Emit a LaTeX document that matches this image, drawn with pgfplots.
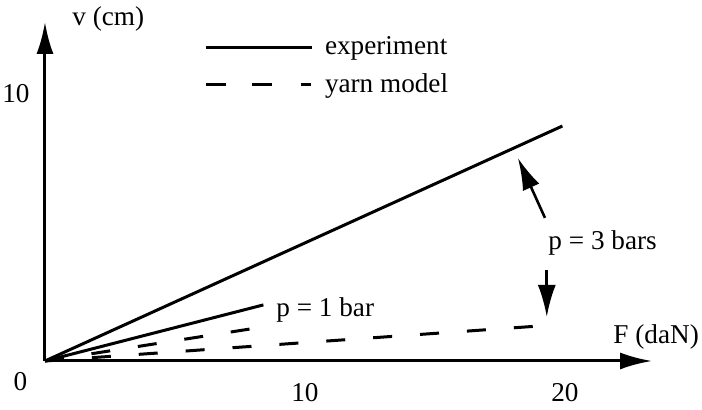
\documentclass[border=0pt]{standalone}
\usepackage{fontspec}
\setmainfont{Liberation Serif}
\usepackage{pgfplots}
\pgfplotsset{compat=1.18}
\usetikzlibrary{arrows.meta}

\begin{document}
\fontsize{13.6}{16}\selectfont
\begin{tikzpicture}
\begin{axis}[
    x=13pt, y=13.35pt,
    xmin=0, xmax=23.35,
    ymin=0, ymax=12.7,
    axis lines=left,
    axis line style={line width=1.5pt, -{Latex[length=16pt,width=8.5pt]}},
    xtick={10,20}, ytick={10},
    major tick length=0pt,
    /pgf/number format/assume math mode=true,
    xticklabel style={anchor=base, yshift=-20.5pt},
    yticklabel style={anchor=east, inner sep=0pt, xshift=-7.5pt},
    xlabel={F (daN)},
    ylabel={v (cm)},
    every axis x label/.style={at={(axis cs:21.85,0.67)}, anchor=base west, inner sep=0pt},
    every axis y label/.style={at={(axis cs:1.04,12.58)}, anchor=base west, inner sep=0pt},
    clip=false,
    legend style={
        at={(axis cs:5.87,12.47)}, anchor=north west,
        draw=none, fill=none, row sep=3.5pt,
        font=\fontsize{13.6}{16}\selectfont,
        /tikz/every odd column/.append style={column sep=4pt},
    },
    legend cell align=left,
    legend image code/.code={\draw[#1] (0pt,0pt) -- (53pt,0pt);},
]

% legend entries
\addlegendimage{black, line width=1.5pt}
\addlegendentry{experiment}
\addlegendimage{black, line width=1.5pt, dash pattern=on 10pt off 13pt on 10pt off 14.5pt on 5pt off 10pt}
\addlegendentry{yarn model}

% experiment, p = 3 bars
\addplot[black, line width=1.5pt, forget plot] coordinates {(0,0) (19.9,8.8)};
% experiment, p = 1 bar
\addplot[black, line width=1.5pt, forget plot] coordinates {(0,0) (8.4,2.1)};
% yarn model, p = 1 bar
\addplot[black, line width=1.5pt, dash pattern=on 9.5pt off 14pt, forget plot] coordinates {(0,0) (7.9,1.2)};
% yarn model, p = 3 bars
\addplot[black, line width=1.5pt, dash pattern=on 9.5pt off 14pt, forget plot] coordinates {(0,0) (19.0,1.31)};

\node[anchor=base, inner sep=0pt] at (axis cs:-0.94,-1.09) {0};
\node[anchor=base west, inner sep=0pt] at (axis cs:8.885,1.65) {p = 1 bar};
\node[anchor=base west, inner sep=0pt] at (axis cs:19.35,4.16) {p = 3 bars};
\draw[line width=1.3pt, -{Latex[length=16pt,width=9pt]}] (axis cs:19.23,5.36) -- (axis cs:18.19,7.6);
\draw[line width=1.3pt, -{Latex[length=16pt,width=9pt]}] (axis cs:19.3,3.4) -- (axis cs:19.3,1.65);

\coordinate (bl) at (axis cs:-1.73,-1.80);
\coordinate (tr) at (axis cs:25.27,13.52);
\end{axis}
\pgfresetboundingbox
\path (bl) rectangle (tr);
\end{tikzpicture}
\end{document}
